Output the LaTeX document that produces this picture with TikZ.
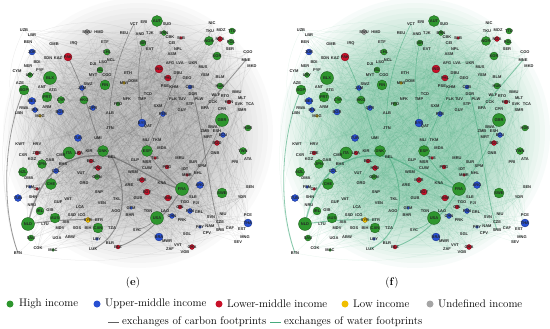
\documentclass[tikz,border=0pt]{standalone}
\usepackage{fontspec}
\newfontfamily\lblfont{Liberation Sans}
\definecolor{cg}{RGB}{46,150,46}
\definecolor{cb}{RGB}{40,80,210}
\definecolor{cr}{RGB}{200,16,40}
\definecolor{cy}{RGB}{240,190,0}
\definecolor{cu}{RGB}{165,165,165}
\definecolor{wat}{RGB}{70,170,125}
\definecolor{carb}{RGB}{95,95,95}
\definecolor{halog}{RGB}{128,128,128}
\definecolor{halow}{RGB}{60,165,115}
\tikzset{
 nd-g/.style={circle,fill=cg,draw=cg!60!black,line width=0.3pt,inner sep=0pt},
 nd-b/.style={circle,fill=cb,draw=cb!60!black,line width=0.3pt,inner sep=0pt},
 nd-r/.style={circle,fill=cr,draw=cr!60!black,line width=0.3pt,inner sep=0pt},
 nd-y/.style={circle,fill=cy,draw=cy!60!black,line width=0.3pt,inner sep=0pt},
 nd-u/.style={circle,fill=cu,draw=cu!60!black,line width=0.3pt,inner sep=0pt},
 nd-t/.style={inner sep=0pt},
 lbl/.style={font=\lblfont\bfseries\fontsize{4}{4}\selectfont, inner sep=0pt, text=black!85},
 web/.style={line width=0.25pt, opacity=0.15},
 strong/.style={line width=#1, opacity=0.6},
 legdot/.style={circle,inner sep=0pt,minimum size=7pt},
 legtxt/.style={anchor=west,inner sep=0pt,font=\fontsize{11}{13}\selectfont},
}
\def\netdata{157/21/g/5.5/AUT,50/78/g/6.5/BLX,24/90/g/5/SGP,47/97/g/5/PRT,61/100/g/3.5/CYP,84/100/g/4/HKG,105/85/g/5/FIN,107/52/g/3/CHL,100/70/g/3/ISL,30/75/g/2.5/URY,143/43/g/3/ISR,164/33/g/2.5/BRN,209/41/g/4.5/NOR,231/42/g/3/POL,232/31/g/3/TTO,217/56/g/4/KOR,220/86/g/3/HUN,222/120/g/6.5/GBR,248/128/g/3/HDR,118/104/g/2/FRO,69/153/g/6/ITA,103/151/g/5.5/DNK,42/164/g/4.5/JPN,23/172/g/4.5/NZL,51/184/g/5.5/CHE,97/177/g/2.5/OMN,40/211/g/4/IRL,28/224/g/6.5/NLD,55/218/g/5/AUS,98/228/g/5/CAN,31/238/g/3/SAU,53/250/g/1.5/MAC,147/151/g/5.5/ESP,243/151/g/3.5/TWN,182/189/g/6.5/FRA,222/193/g/5/SWE,157/218/g/6.5/USA,
32/52/b/3/JOR,82/88/b/2.5/JAM,32/101/b/3.5/MEX,35/110/b/2.5/IRN,60/112/b/3/BGR,93/108/b/2.5/QPR,142/123/b/4/BYS,190/87/b/2/CUB,163/114/b/2.5/PER,78/138/b/3.5/TUR,223/135/b/2.5/ECU,56/171/b/2.5/COL,30/187/b/1.5/FSM,18/198/b/3.5/TUN,131/208/b/1.5/GTM,97/239/b/1.5/LBY,200/185/b/3.5/ARG,190/211/b/2.5/PAN,172/216/b/2.5/CHN,200/227/b/1.5/PRY,248/223/b/4/THA,159/237/b/4/BRA,
68/57/r/4/PAK,159/69/r/4/IND,168/78/r/3/PHL,181/38/r/1.5/SLB,220/39/r/2.5/NGA,229/102/r/2/KEN,217/143/r/2.5/BGD,37/153/r/2/ZWE,79/153/r/2/LKA,91/161/r/2/BOL,98/168/r/2.5/HND,37/189/r/1.5/CIV,155/158/r/1.5/TLS,167/167/r/2/PNG,187/175/r/1.5/MMR,142/180/r/2.5/MAR,147/192/r/3/EGY,168/198/r/3/VNM,180/207/r/2/GIN,118/247/r/2/BLZ,192/247/r/2.5/GHA,
40/116/y/1.5/MDG,124/83/y/1.5/MWI,88/220/y/2.5/SYR,87/32/u/2.5/SWU,
24/30/t/0/UZB,32/35/t/0/LBR,28/42/t/0/BEN,54/44/t/0/GMB,74/43/t/0/IRQ,99/32/t/0/HMD,105/42/t/0/ETF,134/24/t/0/VCT,124/33/t/0/REU,48/58/t/0/SDN,58/58/t/0/KAZ,28/66/t/0/NER,37/62/t/0/BDI,103/62/t/0/LSO,93/64/t/0/DJI,111/60/t/0/NCL,17/71/t/0/CYM,40/70/t/0/PYF,93/75/t/0/MYT,107/75/t/0/COG,128/73/t/0/ETH,20/83/t/0/AZE,42/87/t/0/ANT,53/90/t/0/ATG,88/84/t/0/SWZ,133/81/t/0/DOM,24/108/t/0/RWA,19/113/t/0/LBN,47/107/t/0/ARM,127/99/t/0/NFK,110/113/t/0/ALB,110/128/t/0/JTN,148/126/t/0/QAT,144/22/t/0/ERI,167/24/t/0/SUD,140/34/t/0/AND,150/33/t/0/TJK,170/37/t/0/CBK,172/43/t/0/CEI,150/49/t/0/EVT,178/49/t/0/NPL,172/54/t/0/ASM,212/23/t/0/NIC,210/31/t/0/TKU,221/30/t/0/MOZ,230/49/t/0/SER,248/52/t/0/CGO,246/60/t/0/MNE,252/66/t/0/MKD,170/63/t/0/AFG,180/63/t/0/LVA,193/63/t/0/UKR,203/67/t/0/MUS,178/73/t/0/DBU,187/78/t/0/GEO,205/75/t/0/YEM,220/77/t/0/BLM,165/86/t/0/PSE,174/87/t/0/KHM,148/94/t/0/TCD,142/99/t/0/TMP,173/99/t/0/FLK,182/99/t/0/TUV,193/94/t/0/DDR,199/99/t/0/PLW,190/104/t/0/STP,216/95/t/0/WLF,225/96/t/0/RTO,237/92/t/0/BMU,242/98/t/0/MLT,213/102/t/0/CCK,239/104/t/0/SVK,250/104/t/0/TCA,158/106/t/0/SXM,182/110/t/0/GUY,205/108/t/0/BFA,222/109/t/0/CPR,242/110/t/0/SMR,213/127/t/0/BWA,205/131/t/0/ZMB,217/131/t/0/ESH,208/137/t/0/MRT,98/138/t/0/UMI,20/144/t/0/KWT,37/144/t/0/HRV,23/155/t/0/CXR,32/159/t/0/KGZ,89/151/t/0/KIR,50/160/t/0/GAB,61/155/t/0/CMR,63/164/t/0/BHS,112/157/t/0/BEL,29/178/t/0/DMA,81/173/t/0/VUT,84/183/t/0/GRD,33/197/t/0/SHN,99/192/t/0/SNP,68/199/t/0/VAT,58/202/t/0/GUF,32/205/t/0/NRU,102/203/t/0/VEN,80/207/t/0/LCA,117/199/t/0/TKL,50/210/t/0/GIB,72/215/t/0/SSD,82/215/t/0/ICO,116/211/t/0/AGO,99/220/t/0/ETR,130/215/t/0/BHR,45/224/t/0/LTU,66/222/t/0/AIA,60/228/t/0/MDV,77/228/t/0/SGS,88/228/t/0/BIH,112/228/t/0/TZA,57/238/t/0/UGA,70/237/t/0/ABW,18/253/t/0/BTN,38/248/t/0/COK,93/249/t/0/LUX,110/243/t/0/BLR,137/230/t/0/SYC,146/140/t/0/MLI,157/140/t/0/TKM,162/148/t/0/MDA,215/153/t/0/GNB,248/159/t/0/ATA,235/162/t/0/PRI,135/160/t/0/GLP,147/162/t/0/MSR,147/168/t/0/CUW,133/172/t/0/WSM,180/158/t/0/MRU,193/162/t/0/SUR,202/166/t/0/SPM,185/169/t/0/IOT,198/173/t/0/NHL,162/183/t/0/KNA,129/185/t/0/ARE,250/187/t/0/SEN,242/197/t/0/YDR,138/198/t/0/GUB,193/197/t/0/SLE,185/202/t/0/TGO,196/203/t/0/FJI,148/211/t/0/TON,165/211/t/0/LAO,182/220/t/0/PRK,199/212/t/0/GRL,223/214/t/0/NIU,211/217/t/0/SVN,220/222/t/0/CZE,248/215/t/0/PCE,242/229/t/0/EST,230/228/t/0/CAF,220/230/t/0/SRB,210/226/t/0/NAM,207/233/t/0/CPV,187/234/t/0/SGL,245/237/t/0/MNG,238/242/t/0/SEV,167/241/t/0/MWR,178/245/t/0/VVT,170/249/t/0/ZAF,185/252/t/0/VGB}
\newcommand\drawnetpanel[4]{%
\begin{scope}[xshift=#2, name prefix=#1-]
 \foreach \rr in {60,65,...,135} \fill[#4,opacity=0.04] (138,133) circle[radius=\rr pt];
 \foreach \x/\y/\t/\r/\l [count=\i] in \netdata {\coordinate (p\i) at (\x,\y); \coordinate (\l) at (\x,\y);}
 \pgfmathsetseed{11}
 \foreach \k in {1,...,800}{%
   \pgfmathtruncatemacro\ea{random(1,\netN)}%
   \pgfmathtruncatemacro\eb{random(1,\netN)}%
   \pgfmathtruncatemacro\bb{random(-35,35)}%
   \ifnum\ea=\eb\relax\else\draw[web,#3] (p\ea) to[bend left=\bb] (p\eb);\fi}
 \draw[strong=1.4pt,#3] (NLD) .. controls (40,170) and (70,150) .. (BEL);
 \draw[strong=1.2pt,#3] (BEL) .. controls (135,165) and (160,185) .. (FRA);
 \draw[strong=1pt,#3] (NLD) to[bend left=5] (ETR);
 \draw[strong=1pt,#3] (BEL) .. controls (130,190) and (125,235) .. (LUX);
 \draw[strong=0.9pt,#3] (FRA) .. controls (165,215) and (150,235) .. (BLZ);
 \draw[strong=0.8pt,#3] (SGP) .. controls (2,140) and (2,210) .. (BTN);
 \draw[strong=0.9pt,#3] (MNE) -- (BFA);
 \draw[strong=0.8pt,#3] (DDR) .. controls (205,140) and (210,200) .. (SRB);
 \draw[strong=0.7pt,#3] (PAK) .. controls (85,90) and (90,120) .. (UMI);
 \draw[strong=0.6pt,#3] (VCT) .. controls (115,60) and (108,100) .. (JTN);
 \draw[strong=0.6pt,#3] (ISR) .. controls (135,70) and (140,100) .. (BYS);
 \draw[strong=0.6pt,#3] (DBU) -- (ESP);
 \draw[strong=0.6pt,#3] (GBR) to[bend left=10] (FRA);
 \draw[strong=0.8pt,#3] (ESP) to[bend right=10] (FRA);
 \draw[strong=0.6pt,#3] (USA) to[bend left=15] (SYC);
 \foreach \x/\y/\t/\r/\l [count=\i] in \netdata {%
   \node[nd-\t, minimum size={2*\r*1pt}] (n\i) at (p\i) {};
   \node[lbl] (t\i) at (p\i) {\l};}
\end{scope}}
\begin{document}
\begin{tikzpicture}[x=1pt,y=-1pt]
\useasboundingbox (0,0) rectangle (550,329);
\foreach \x/\y/\t/\r/\l [count=\i] in \netdata {\xdef\netN{\i}}
\drawnetpanel{e}{0pt}{carb}{halog}
\drawnetpanel{f}{277pt}{wat}{halow}
\node[font=\fontsize{11}{13}\selectfont] (cape) at (133,283) {(\textbf{e})};
\node[font=\fontsize{11}{13}\selectfont] (capf) at (392,283) {(\textbf{f})};
\node[legdot,fill=cg] (d1) at (10,304) {};
\node[legtxt] (l1) at (19,304) {High income};
\node[legdot,fill=cb] (d2) at (97,304) {};
\node[legtxt] (l2) at (105,304) {Upper-middle income};
\node[legdot,fill=cr] (d3) at (219,304) {};
\node[legtxt] (l3) at (227,304) {Lower-middle income};
\node[legdot,fill=cy] (d4) at (345,304) {};
\node[legtxt] (l4) at (353,304) {Low income};
\node[legdot,fill=cu] (d5) at (430,304) {};
\node[legtxt] (l5) at (438,304) {Undefined income};
\coordinate (ca) at (108,322); \coordinate (cb2) at (119,322);
\draw[carb,line width=1pt] (ca) -- (cb2);
\node[legtxt] (l6) at (122,322) {exchanges of carbon footprints};
\coordinate (wa) at (270,322); \coordinate (wb) at (281,322);
\draw[wat,line width=1pt] (wa) -- (wb);
\node[legtxt] (l7) at (284,322) {exchanges of water footprints};
\end{tikzpicture}
\end{document}
